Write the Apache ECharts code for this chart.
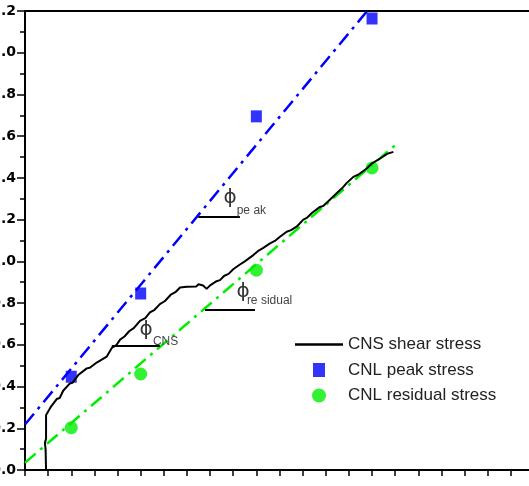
<!DOCTYPE html>
<html>
	<head>
		<meta charset="utf-8">
		<title></title>
		<script src="https://cdn.jsdelivr.net/npm/echarts@6.0.0/dist/echarts.min.js"></script>
		<style>
			html, body { margin: 0; padding: 0; background: #fff; }
		</style>
	</head>
	<body>
		<div id="myChart" style="width: 529px;height:486px;"></div>
	</body>
	<script type="text/javascript">
	// CNS shear stress curve, [normal stress, shear stress]
	var cnsCurve = [
		[0.091, 0.0], [0.089, 0.10], [0.086, 0.13], [0.091, 0.15], [0.091, 0.263],
		[0.110, 0.30], [0.118, 0.305], [0.137, 0.34], [0.150, 0.345], [0.165, 0.38],
		[0.194, 0.415], [0.205, 0.418], [0.230, 0.455], [0.267, 0.487], [0.280, 0.490],
		[0.310, 0.515], [0.353, 0.543], [0.375, 0.585], [0.396, 0.600], [0.411, 0.625],
		[0.430, 0.640], [0.450, 0.665], [0.470, 0.680], [0.497, 0.715], [0.520, 0.728],
		[0.540, 0.755], [0.560, 0.768], [0.583, 0.795], [0.605, 0.810], [0.630, 0.840],
		[0.650, 0.852], [0.670, 0.875], [0.700, 0.878], [0.740, 0.880], [0.750, 0.890],
		[0.770, 0.884], [0.785, 0.868], [0.800, 0.885], [0.828, 0.905], [0.843, 0.910],
		[0.860, 0.930], [0.880, 0.940], [0.900, 0.962], [0.929, 0.985], [0.950, 1.000],
		[0.987, 1.030], [1.010, 1.052], [1.030, 1.065], [1.059, 1.086], [1.080, 1.098],
		[1.102, 1.118], [1.131, 1.142], [1.150, 1.150], [1.174, 1.166], [1.203, 1.200],
		[1.220, 1.210], [1.240, 1.232], [1.275, 1.261], [1.289, 1.265], [1.320, 1.298],
		[1.347, 1.326], [1.370, 1.350], [1.390, 1.375], [1.419, 1.405], [1.440, 1.415],
		[1.477, 1.445], [1.500, 1.470], [1.535, 1.493], [1.565, 1.515], [1.592, 1.525]
	];
	// CNL tests
	var normalStress = [0.2, 0.5, 1.0, 1.5];
	var peakStress = [0.447, 0.846, 1.695, 2.164];
	var residualStress = [0.203, 0.46, 0.958, 1.448];
	// fitted envelopes
	var peakFit = [[0, 0.218], [1.479, 2.2]];
	var residualFit = [[0, 0.035], [1.6, 1.557]];
	// friction angle marks: [x1, x2, y]
	var angleLines = [[0.749, 0.929, 1.213], [0.778, 0.994, 0.766], [0.375, 0.583, 0.594]];
	var phiPos = [[0.886, 1.303], [0.943, 0.854], [0.523, 0.671]];
	var subPos = [[0.915, 1.245], [0.959, 0.810], [0.553, 0.613]];
	var subText = ['pe ak', 're sidual', 'CNS'];

	var legendNames = ['CNS shear stress', 'CNL peak stress', 'CNL residual stress'];

	var chartDom = document.getElementById('myChart');
	var myChart = echarts.init(chartDom);
	var option;

	function pairs(xs, ys) {
		return xs.map(function (x, i) { return [x, ys[i]]; });
	}

	var markLineData = angleLines.map(function (l) {
		return [{ coord: [l[0], l[2]] }, { coord: [l[1], l[2]] }];
	});
	var markPointData = [];
	phiPos.forEach(function (p) {
		markPointData.push({
			coord: p,
			label: { formatter: '\u03d5', fontSize: 20, fontFamily: 'DejaVu Sans', color: '#333', align: 'center', verticalAlign: 'middle' }
		});
	});
	subPos.forEach(function (p, i) {
		markPointData.push({
			coord: p,
			label: { formatter: subText[i], fontSize: 12, fontFamily: 'Liberation Sans', color: '#444', align: 'left', verticalAlign: 'middle' }
		});
	});

	option = {
		animation: false,
		grid: {
			left: 25,
			top: 11,
			right: -5,
			bottom: 16,
			show: true,
			borderColor: '#000',
			borderWidth: 2,
			outerBoundsMode: 'none'
		},
		legend: {
			orient: 'vertical',
			left: 295,
			top: 336,
			padding: 0,
			itemWidth: 48,
			itemHeight: 14,
			itemGap: 8.5,
			textStyle: {
				fontSize: 17,
				lineHeight: 14,
				fontFamily: 'Liberation Sans',
				color: '#222'
			},
			data: [
				{ name: legendNames[0], icon: 'path://M0,0H48V2.5H0Z' },
				{ name: legendNames[1], icon: 'path://M0,0H12V14H0Z' },
				{ name: legendNames[2], icon: 'circle' }
			]
		},
		xAxis: {
			type: 'value',
			min: 0,
			max: 2.2,
			interval: 0.1,
			axisLine: { show: true, lineStyle: { color: '#000', width: 2 } },
			axisTick: { show: true, inside: false, length: 6, lineStyle: { color: '#000', width: 1.5 } },
			axisLabel: { show: false },
			splitLine: { show: false }
		},
		yAxis: {
			type: 'value',
			min: 0,
			max: 2.2,
			interval: 0.2,
			axisLine: { show: true, lineStyle: { color: '#000', width: 2 } },
			axisTick: { show: true, inside: false, length: 8, lineStyle: { color: '#000', width: 1.5 } },
			minorTick: { show: true, splitNumber: 2, length: 5, lineStyle: { color: '#000', width: 1.5 } },
			axisLabel: {
				margin: 9,
				fontSize: 14,
				fontWeight: 'bold',
				fontFamily: 'DejaVu Sans',
				color: '#000',
				formatter: function (v) { return v.toFixed(1); }
			},
			splitLine: { show: false }
		},
		series: [
			{
				name: 'peak envelope',
				type: 'line',
				data: peakFit,
				symbol: 'none',
				lineStyle: { color: '#0000ff', width: 2.5, type: [14, 6, 3, 6] },
				silent: true
			},
			{
				name: 'residual envelope',
				type: 'line',
				data: residualFit,
				symbol: 'none',
				lineStyle: { color: '#00ee00', width: 2.5, type: [14, 6, 3, 6] },
				silent: true
			},
			{
				name: legendNames[0],
				type: 'line',
				data: cnsCurve,
				symbol: 'none',
				itemStyle: { color: '#000' },
				lineStyle: { color: '#000', width: 2 },
				markLine: {
					silent: true,
					symbol: 'none',
					label: { show: false },
					lineStyle: { color: '#000', width: 2, type: 'solid' },
					data: markLineData
				},
				markPoint: {
					symbol: 'circle',
					symbolSize: 1,
					itemStyle: { color: 'rgba(0,0,0,0)' },
					label: { show: true, position: 'inside' },
					data: markPointData
				}
			},
			{
				name: legendNames[1],
				type: 'scatter',
				data: pairs(normalStress, peakStress),
				symbol: 'rect',
				symbolSize: [11, 12],
				itemStyle: { color: '#0000ff' }
			},
			{
				name: legendNames[2],
				type: 'scatter',
				data: pairs(normalStress, residualStress),
				symbol: 'circle',
				symbolSize: 13,
				itemStyle: { color: '#00ee00' }
			}
		]
	};

	option && myChart.setOption(option);
	</script>
</html>
